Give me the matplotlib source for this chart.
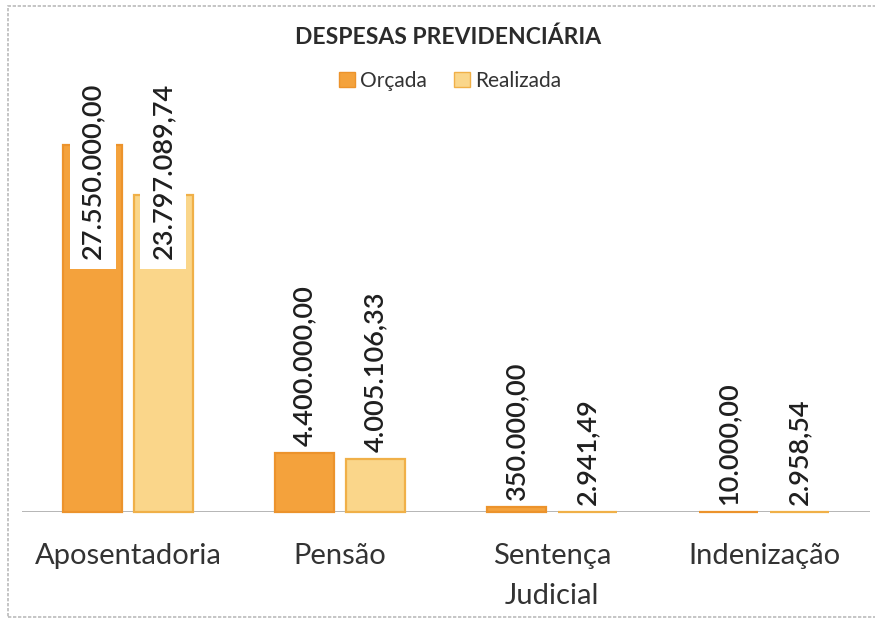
import matplotlib
matplotlib.use("Agg")
import matplotlib.pyplot as plt
from matplotlib.patches import Rectangle, Patch
import numpy as np

# dados
categorias = ["Aposentadoria", "Pensão", "Sentença\nJudicial", "Indenização"]
orcada = [27550000.00, 4400000.00, 350000.00, 10000.00]
realizada = [23797089.74, 4005106.33, 2941.49, 2958.54]
rotulos_orcada = ["27.550.000,00", "4.400.000,00", "350.000,00", "10.000,00"]
rotulos_realizada = ["23.797.089,74", "4.005.106,33", "2.941,49", "2.958,54"]

cor_orcada = "#F4A23C"
borda_orcada = "#EC932C"
cor_realizada = "#FAD68A"
borda_realizada = "#F0B048"

plt.rcParams['font.family'] = ['Lato', 'DejaVu Sans']

fig = plt.figure(figsize=(8.75, 6.2), dpi=100)
W, H = 875, 620
ax = fig.add_axes([22 / W, 108 / H, 848 / W, 412 / H])

x = np.arange(len(categorias))
larg = 0.28
desl = 0.166
ymax = 30.93e6

ax.axhline(0, color='#A9A9A9', linewidth=1.2, zorder=1)
b1 = ax.bar(x - desl, orcada, larg, color=cor_orcada, edgecolor=borda_orcada, linewidth=1.6,
            zorder=2, clip_on=False)
b2 = ax.bar(x + desl, realizada, larg, color=cor_realizada, edgecolor=borda_realizada, linewidth=1.6,
            zorder=2, clip_on=False)

ax.set_xlim(-0.5, len(categorias) - 0.5)
ax.set_ylim(0, ymax)

# rotulos de valor
for barras, rotulos in ((b1, rotulos_orcada), (b2, rotulos_realizada)):
    for barra, txt in zip(barras, rotulos):
        h = barra.get_height()
        cx = barra.get_x() + barra.get_width() / 2
        if h > 0.5 * ymax:
            ax.text(cx, 0.615 * ymax, txt, rotation=90, ha='center', va='bottom',
                    fontsize=19.5, fontweight='semibold', color='#1f1f1f', zorder=4,
                    bbox=dict(boxstyle='square,pad=0.38', facecolor='white', edgecolor='none'))
        else:
            ax.annotate(txt, (cx, h), xytext=(0, 5), textcoords='offset points',
                        rotation=90, ha='center', va='bottom',
                        fontsize=19.5, fontweight='semibold', color='#1f1f1f', zorder=4)

for s in ax.spines.values():
    s.set_visible(False)
ax.set_yticks([])
ax.set_xticks(x)
ax.set_xticklabels(categorias, fontsize=21, color='#333333', linespacing=1.7)
ax.tick_params(axis='x', length=0, pad=22)

fig.text(448 / W, 1 - 37 / H, "DESPESAS PREVIDENCIÁRIA", ha='center', va='center',
         fontsize=16.5, fontweight='bold', color='#2b2b2b')

handles = [Patch(facecolor=cor_orcada, edgecolor=borda_orcada),
           Patch(facecolor=cor_realizada, edgecolor=borda_realizada)]
fig.legend(handles, ["Orçada", "Realizada"], loc='center', bbox_to_anchor=(450 / W, 1 - 81 / H),
           ncol=2, frameon=False, fontsize=15, handlelength=0.75, handleheight=0.75,
           handletextpad=0.25, columnspacing=1.3, labelcolor='#333333')

# moldura
fig.patches.append(Rectangle((8 / W, 1 - 617 / H), 870 / W, 611 / H, transform=fig.transFigure,
                             fill=False, edgecolor='#BBBBBB', linewidth=1.2, linestyle=(0, (2, 1))))

fig.savefig("out.png", dpi=100)
